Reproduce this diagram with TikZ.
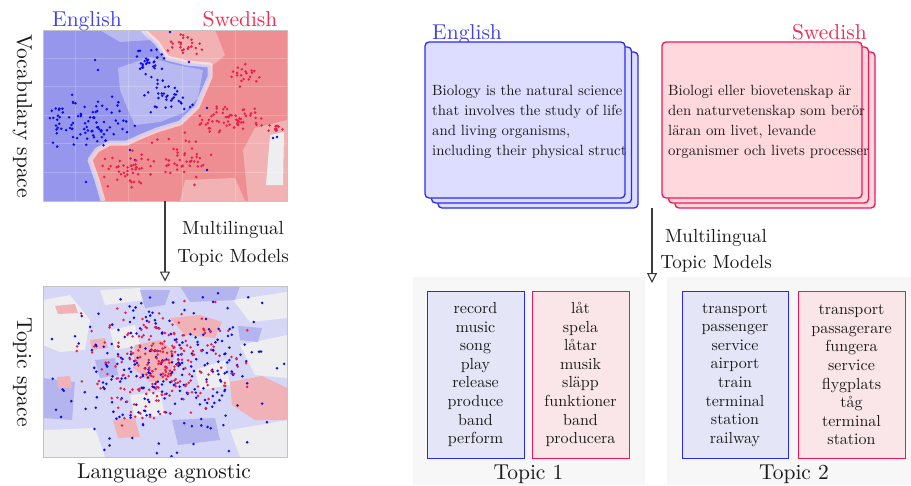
\documentclass[tikz,border=0pt]{standalone}
\usepackage{fontspec}
\setmainfont{lmroman10-regular}[Extension=.otf]
\usetikzlibrary{arrows.meta}
\definecolor{engblue}{RGB}{65,65,240}
\definecolor{swered}{RGB}{238,45,85}
\definecolor{dotblue}{RGB}{10,10,245}
\definecolor{dotred}{RGB}{235,30,70}
\definecolor{bgblue}{RGB}{150,150,236}
\definecolor{bglblue}{RGB}{185,185,242}
\definecolor{bgred}{RGB}{239,142,146}
\definecolor{bglred}{RGB}{242,178,180}
\definecolor{bgwhite}{RGB}{238,238,240}
\definecolor{lav}{RGB}{214,214,246}
\definecolor{dlav}{RGB}{180,180,238}
\definecolor{lred}{RGB}{240,178,182}
\definecolor{cardblue}{RGB}{221,221,255}
\definecolor{cardred}{RGB}{255,216,222}
\definecolor{cardbord}{RGB}{40,40,250}
\definecolor{cardrbord}{RGB}{245,20,85}
\definecolor{tbblue}{RGB}{229,229,248}
\definecolor{tbred}{RGB}{250,229,233}
\definecolor{panelgray}{RGB}{247,247,247}
\definecolor{arrgray}{RGB}{60,60,60}
\definecolor{txt}{RGB}{25,25,25}
\newcommand\dotcluster[6]{%
  \foreach \k in {1,...,#2}{\fill[#1] ({#3+(rnd+rnd-1)*#5},{#4+(rnd+rnd-1)*#6}) circle[radius=1.4pt];}}
\newcommand\gcluster[6]{%
  \foreach \k in {1,...,#2}{\fill[#1] ({#3+(rnd+rnd+rnd-1.5)*#5},{#4+(rnd+rnd+rnd-1.5)*#6}) circle[radius=1.4pt];}}
\tikzset{
  bigfont/.style={font=\fontsize{21.5}{26}\selectfont},
  midfont/.style={font=\fontsize{19}{28}\selectfont, text=txt},
  doctext/.style={font=\fontsize{14.8}{20}\selectfont, align=left, text=txt, anchor=west, inner sep=0pt},
  topicwords/.style={font=\fontsize{16}{18.6}\selectfont, align=center, text=txt, inner sep=0pt},
  card/.style={rounded corners=4pt, line width=1.3pt, minimum width=200pt, minimum height=156pt, inner sep=0pt},
  engcard/.style={card, draw=cardbord, fill=cardblue},
  swecard/.style={card, draw=cardrbord, fill=cardred},
  tbox/.style={minimum height=167pt, line width=1pt, inner sep=0pt},
  plotframe/.style={draw={rgb,255:red,195;green,195;blue,195}, line width=0.8pt, inner sep=0pt},
  panelbg/.style={fill=panelgray, inner sep=0pt},
  arr/.style={draw=arrgray, line width=1.1pt, -{Triangle[open,length=10pt,width=10pt]}}
}
\begin{document}
\begin{tikzpicture}[x=1pt,y=-1pt]
\useasboundingbox (0,0) rectangle (911,485);
\pgfmathsetseed{2024}

% ---------- top scatter (vocabulary space)
\begin{scope}
\clip (43,30) rectangle (287,201);
\fill[bgred] (43,30) rectangle (287,201);
\fill[bglred] (140,30) -- (215,30) -- (225,55) -- (212,66) -- (185,62) -- (165,56) -- (155,42) -- cycle;
\fill[bglred] (287,120) -- (255,128) -- (243,150) -- (248,201) -- (287,201) -- cycle;
\fill[bgwhite] (270,135) -- (284,132) -- (283,185) -- (266,185) -- cycle;
\fill[bglred] (185,180) -- (235,178) -- (245,201) -- (180,201) -- cycle;
\fill[bgblue] (43,30) -- (143,30) -- (157,43) -- (167,58) -- (187,63) -- (210,65) -- (210,77) -- (203,93) -- (197,107) -- (180,123) -- (157,130) -- (140,137) -- (127,143) -- (110,143) -- (97,150) -- (90,160) -- (97,180) -- (103,201) -- (43,201) -- cycle;
\fill[bglblue] (118,68) -- (150,57) -- (172,64) -- (203,70) -- (198,98) -- (185,112) -- (160,122) -- (135,125) -- (128,110) -- (120,90) -- cycle;
\fill[bglblue] (100,30) -- (143,30) -- (150,40) -- (120,42) -- cycle;
\draw[white, opacity=0.55, line width=5pt, line join=round] (143,30) -- (157,43) -- (167,58) -- (187,63) -- (210,65) -- (210,77) -- (203,93) -- (197,107) -- (180,123) -- (157,130) -- (140,137) -- (127,143) -- (110,143) -- (97,150) -- (90,160) -- (97,180) -- (103,201);
\foreach \gx in {75,128,182,235} \draw[white, opacity=0.2, line width=0.6pt] (\gx,30) -- (\gx,201);
\foreach \gy in {58,86,115,143,172} \draw[white, opacity=0.2, line width=0.6pt] (43,\gy) -- (287,\gy);
\dotcluster{dotblue}{90}{90}{122}{55}{30}
\dotcluster{dotblue}{30}{150}{62}{18}{16}
\dotcluster{dotblue}{35}{168}{95}{28}{18}
\foreach \p in {(95,60),(98,70),(86,182),(189,62),(207,108),(170,32),(130,150),(135,160),(273,138),(277,137),(207,170)}
  \fill[dotblue] \p circle[radius=1.4pt];
\dotcluster{dotred}{25}{185}{45}{22}{12}
\dotcluster{dotred}{20}{245}{75}{15}{14}
\dotcluster{dotred}{60}{232}{120}{35}{18}
\dotcluster{dotred}{45}{130}{170}{32}{20}
\dotcluster{dotred}{45}{185}{160}{35}{30}
\dotcluster{dotred}{12}{275}{128}{8}{4}
\end{scope}
\node[plotframe, minimum width=244pt, minimum height=171pt] (topplot) at (165,115.5) {};

% ---------- bottom scatter (topic space)
\begin{scope}
\clip (43,286) rectangle (287,457);
\fill[lav] (43,286) rectangle (287,457);
\fill[bgwhite] (43,300) -- (70,295) -- (90,320) -- (85,350) -- (60,352) -- (43,345) -- cycle;
\fill[bgwhite] (233,300) -- (287,292) -- (287,318) -- (250,322) -- cycle;
\fill[bgwhite] (240,345) -- (287,335) -- (287,378) -- (255,375) -- cycle;
\fill[bgwhite] (43,430) -- (95,428) -- (105,457) -- (43,457) -- cycle;
\fill[bgwhite] (230,430) -- (287,420) -- (287,457) -- (240,457) -- cycle;
\fill[bgwhite] (110,330) -- (135,325) -- (140,345) -- (115,350) -- cycle;
\fill[bgwhite] (195,370) -- (225,360) -- (230,385) -- (200,390) -- cycle;
\fill[bgwhite] (130,395) -- (160,392) -- (165,415) -- (135,418) -- cycle;
\fill[bgwhite] (100,290) -- (140,288) -- (145,300) -- (105,305) -- cycle;
\fill[dlav] (180,286) -- (240,286) -- (235,300) -- (190,302) -- cycle;
\fill[dlav] (43,378) -- (75,382) -- (72,420) -- (43,418) -- cycle;
\fill[dlav] (172,420) -- (215,418) -- (220,440) -- (178,445) -- cycle;
\fill[dlav] (238,326) -- (262,328) -- (258,342) -- (240,340) -- cycle;
\fill[dlav] (95,360) -- (115,358) -- (118,375) -- (100,378) -- cycle;
\fill[dlav] (140,290) -- (170,290) -- (165,305) -- (145,308) -- cycle;
\fill[lred] (230,382) -- (262,376) -- (287,388) -- (287,420) -- (255,420) -- (232,405) -- cycle;
\fill[lred] (170,318) -- (200,315) -- (222,322) -- (215,338) -- (185,335) -- cycle;
\fill[lred] (135,345) -- (160,340) -- (175,352) -- (170,378) -- (150,382) -- (133,368) -- cycle;
\fill[lred] (113,420) -- (135,418) -- (140,437) -- (118,438) -- cycle;
\fill[lred] (55,306) -- (75,304) -- (78,313) -- (58,314) -- cycle;
\fill[lred] (57,377) -- (70,376) -- (72,388) -- (58,388) -- cycle;
\fill[lred] (90,340) -- (105,338) -- (108,348) -- (92,350) -- cycle;
\gcluster{dotblue}{270}{165}{370}{95}{70}
\gcluster{dotred}{240}{160}{365}{70}{50}
\end{scope}
\node[plotframe, minimum width=244pt, minimum height=171pt] (botplot) at (165,371.5) {};

% ---------- left labels
\node[bigfont, text=engblue, anchor=base, inner sep=0pt] (enL) at (87,26.5) {English};
\node[bigfont, text=swered, anchor=base, inner sep=0pt] (swL) at (240,26.5) {Swedish};
\node[bigfont, text=txt, rotate=-90, anchor=base, inner sep=0pt] (vocab) at (17,116) {Vocabulary space};
\node[bigfont, text=txt, rotate=-90, anchor=base, inner sep=0pt] (tspace) at (17,372) {Topic space};
\node[bigfont, text=txt, anchor=base, inner sep=0pt] (agn) at (164,478) {Language agnostic};
\draw[arr, shorten >=4pt] (topplot.south) -- (botplot.north);
\node[midfont, anchor=base, inner sep=0pt] (mlL1) at (233,234) {Multilingual};
\node[midfont, anchor=base, inner sep=0pt] (mlL2) at (233,262) {Topic Models};

% ---------- right: documents
\node[bigfont, text=engblue, anchor=base west, inner sep=0pt] (enR) at (432,39) {English};
\node[bigfont, text=swered, anchor=base east, inner sep=0pt] (swR) at (867,39) {Swedish};
\node[engcard] (ec3) at (538,130) {};
\node[engcard] (ec2) at (531.5,125) {};
\node[engcard] (ec1) at (525,120) {};
\node[swecard] (sc3) at (775,130) {};
\node[swecard] (sc2) at (768.5,125) {};
\node[swecard] (sc1) at (762,120) {};
\node[doctext] (etext) at (432,121.5) {Biology is the natural science\\that involves the study of life\\and living organisms,\\including their physical struct};
\node[doctext] (stext) at (668,121.5) {Biologi eller biovetenskap är\\den naturvetenskap som berör\\läran om livet, levande\\organismer och livets processer};

% ---------- right: topics
\node[panelbg, minimum width=232pt, minimum height=208pt] (panel1) at (529,381) {};
\node[panelbg, minimum width=244pt, minimum height=208pt] (panel2) at (789,381) {};
\coordinate (docsbottom) at (652,208);
\coordinate (topicstop) at (652,283);
\draw[arr] (docsbottom) -- (topicstop);
\node[midfont, anchor=base, inner sep=0pt] (mlR1) at (716,242) {Multilingual};
\node[midfont, anchor=base, inner sep=0pt] (mlR2) at (716,268) {Topic Models};

\node[tbox, draw=cardbord, fill=tbblue, minimum width=97pt] (t1e) at (475.5,374.5) {};
\node[tbox, draw=cardrbord, fill=tbred, minimum width=97pt] (t1s) at (580.5,374.5) {};
\node[tbox, draw=cardbord, fill=tbblue, minimum width=106pt] (t2e) at (735,375) {};
\node[tbox, draw=cardrbord, fill=tbred, minimum width=107pt] (t2s) at (851.5,375) {};
\node[topicwords] (w1e) at (t1e.center) {record\\music\\song\\play\\release\\produce\\band\\perform};
\node[topicwords] (w1s) at (t1s.center) {låt\\spela\\låtar\\musik\\släpp\\funktioner\\band\\producera};
\node[topicwords] (w2e) at (t2e.center) {transport\\passenger\\service\\airport\\train\\terminal\\station\\railway};
\node[topicwords] (w2s) at (t2s.center) {transport\\passagerare\\fungera\\service\\flygplats\\tåg\\terminal\\station};
\node[bigfont, text=txt, anchor=base, inner sep=0pt] (top1) at (528.5,479) {Topic 1};
\node[bigfont, text=txt, anchor=base, inner sep=0pt] (top2) at (794,479) {Topic 2};
\end{tikzpicture}
\end{document}
